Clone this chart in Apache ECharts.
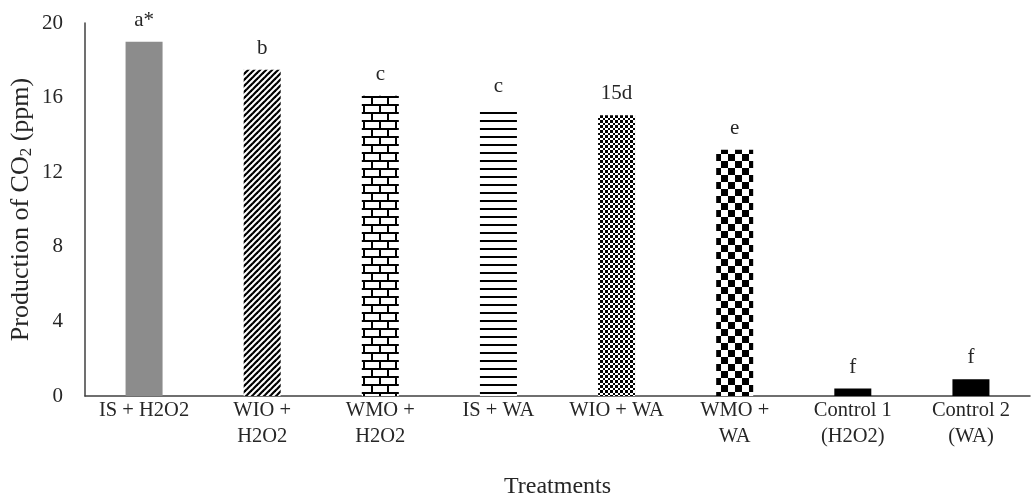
<!DOCTYPE html>
<html><head><meta charset="utf-8">
<script src="https://cdn.jsdelivr.net/npm/echarts@6/dist/echarts.min.js"></script>
<style>html,body{margin:0;padding:0;background:#fff}#c{width:1034px;height:498px}</style>
</head><body><div id="c"></div>
<script>
const categories = ['IS + H2O2','WIO +\nH2O2','WMO +\nH2O2','IS + WA','WIO + WA','WMO +\nWA','Control 1\n(H2O2)','Control 2\n(WA)'];
const values = [19.0, 17.5, 16.1, 15.45, 15.05, 13.2, 0.4, 0.9];
const letters = ['a*','b','c','c','15d','e','f','f'];
const yTicks = [0, 4, 8, 12, 16, 20];

function mk(w,h,draw){const c=document.createElement('canvas');c.width=w;c.height=h;const g=c.getContext('2d');g.fillStyle='#fff';g.fillRect(0,0,w,h);g.fillStyle='#000';g.strokeStyle='#000';draw(g);return {image:c,repeat:'repeat'};}
const pDiag = mk(6,6,g=>{g.lineWidth=2.2;for(let k=-1;k<=1;k++){g.beginPath();g.moveTo(k*6-1,7);g.lineTo(k*6+7,-1);g.stroke();}});
const pBrick = mk(16,16,g=>{g.fillRect(0,0,16,2);g.fillRect(0,8,16,2);g.fillRect(3,0,2,8);g.fillRect(11,8,2,8);});
const pHoriz = mk(8,8,g=>{g.fillRect(0,0,8,2);});
const pSmallCheck = mk(5,5,g=>{g.fillRect(0,0,3,3);g.fillRect(3,3,2,2);});
const pBigCheck = mk(14,14,g=>{g.fillRect(0,0,7,7);g.fillRect(7,7,7,7);});
const fills = ['#8c8c8c', pDiag, pBrick, pHoriz, pSmallCheck, pBigCheck, '#000', '#000'];

const font = 'Liberation Serif';
const txt = '#262626';
const chart = echarts.init(document.getElementById('c'));
chart.setOption({
  animation:false,
  grid:{left:85,right:4,top:23,bottom:102,containLabel:false,outerBoundsMode:'none'},
  xAxis:{type:'category',data:categories,
    axisLine:{lineStyle:{color:'#404040',width:1.5}},axisTick:{show:false},
    axisLabel:{fontFamily:font,fontSize:20.5,color:txt,lineHeight:26,margin:2,interval:0},
    name:'Treatments',nameLocation:'middle',nameGap:79,nameMoveOverlap:false,
    nameTextStyle:{fontFamily:font,fontSize:24,color:txt}},
  yAxis:{type:'value',min:0,max:20,interval:4,
    axisLine:{show:true,lineStyle:{color:'#404040',width:1.5}},axisTick:{show:false},splitLine:{show:false},
    axisLabel:{fontFamily:font,fontSize:21,color:txt,margin:22,
      formatter:v=>yTicks.includes(v)?String(v):''},
    name:'Production of CO{s|2} (ppm)',nameLocation:'middle',nameGap:50,nameMoveOverlap:false,
    nameTextStyle:{fontFamily:font,fontSize:26,color:txt,
      rich:{s:{fontFamily:font,fontSize:17,color:txt,verticalAlign:'bottom',padding:[11,0,0,0]}}}},
  series:[{type:'bar',barWidth:37,
    data:values.map((v,i)=>({value:v,itemStyle:{color:fills[i]}})),
    label:{show:true,position:'top',distance:11,fontFamily:font,fontSize:21,color:txt,
      formatter:p=>letters[p.dataIndex]}}]
});
</script></body></html>
